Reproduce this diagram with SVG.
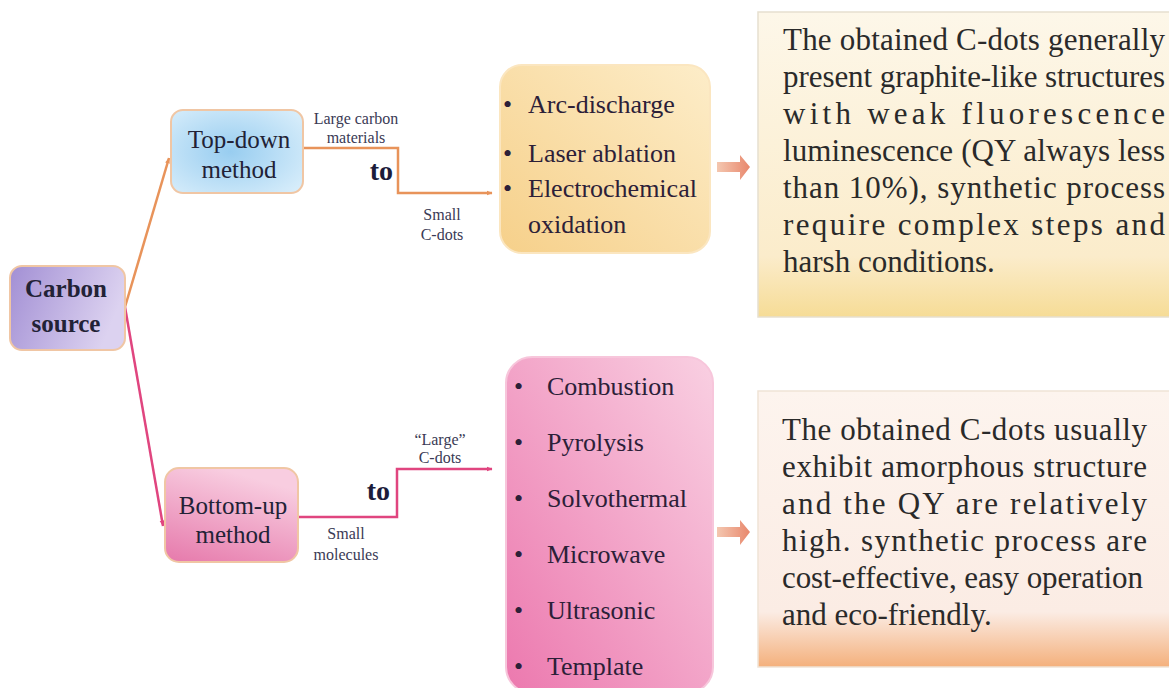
<svg xmlns="http://www.w3.org/2000/svg" width="1169" height="688" viewBox="0 0 1169 688">
<defs>
<style>
.node{stroke:#f0c6a4;stroke-width:2}
.t{font-family:"Liberation Serif","Times New Roman",serif;fill:#222236}
.nt{font-size:25px;text-anchor:middle}
.lbl{font-size:16px;text-anchor:middle;fill:#3a3a55}
.to{font-size:28px;font-weight:bold;text-anchor:end;fill:#1c1c3a}
.li{font-size:26px;fill:#2c2038}
.desc{font-size:31px;fill:#2a2a2a}
.orange{stroke:#e8935a;stroke-width:2.5;fill:none}
.pink{stroke:#e0457f;stroke-width:2.5;fill:none}
</style>
<linearGradient id="gCarbon" x1="0" y1="0" x2="1" y2="0.3"><stop offset="0" stop-color="#a28fd4"/><stop offset="1" stop-color="#dcd2f0"/></linearGradient>
<radialGradient id="gTop" cx="0.45" cy="0.5" r="0.7"><stop offset="0" stop-color="#98cdf0"/><stop offset="1" stop-color="#d9eefb"/></radialGradient>
<linearGradient id="gBottom" x1="0" y1="1" x2="0.4" y2="0"><stop offset="0" stop-color="#e679ab"/><stop offset="1" stop-color="#f8cde0"/></linearGradient>
<linearGradient id="gArc" x1="0" y1="1" x2="1" y2="0"><stop offset="0" stop-color="#f6d08a"/><stop offset="1" stop-color="#fdedc9"/></linearGradient>
<linearGradient id="gPink" x1="0" y1="1" x2="1" y2="0"><stop offset="0" stop-color="#ec78ae"/><stop offset="1" stop-color="#f9d0e2"/></linearGradient>
<linearGradient id="gDesc1" x1="0" y1="0" x2="0" y2="1"><stop offset="0" stop-color="#fdf7e9"/><stop offset="0.8" stop-color="#fbeccb"/><stop offset="1" stop-color="#f6dc96"/></linearGradient>
<linearGradient id="gDesc2" x1="0" y1="0" x2="0" y2="1"><stop offset="0" stop-color="#fdf4ee"/><stop offset="0.8" stop-color="#fbece4"/><stop offset="1" stop-color="#f4b07c"/></linearGradient>
<linearGradient id="gBlock" x1="0" y1="0" x2="1" y2="0"><stop offset="0" stop-color="#f4c7b0"/><stop offset="1" stop-color="#e8876c"/></linearGradient>
<marker id="aO" viewBox="0 0 10 10" refX="9" refY="5" markerWidth="6" markerHeight="6" orient="auto" markerUnits="userSpaceOnUse"><path d="M0,1 L10,5 L0,9 Z" fill="#e8935a"/></marker>
<marker id="aP" viewBox="0 0 10 10" refX="9" refY="5" markerWidth="6" markerHeight="6" orient="auto" markerUnits="userSpaceOnUse"><path d="M0,1 L10,5 L0,9 Z" fill="#e0457f"/></marker>
</defs>
<rect width="1169" height="688" fill="#ffffff"/>

<g id="connectors">
<path class="orange" d="M125,307 L169,158" marker-end="url(#aO)"/>
<path class="pink" d="M125,307 L163,526" marker-end="url(#aP)"/>
<path class="orange" d="M303,148 H398 V193 H492" marker-end="url(#aO)"/>
<path class="pink" d="M298,517 H397 V469 H492" marker-end="url(#aP)"/>
<path d="M717,162 H740 V155 L750,167 L740,180 V172 H717 Z" fill="url(#gBlock)"/>
<path d="M717,527 H740 V520 L750,532 L740,545 V537 H717 Z" fill="url(#gBlock)"/>
<text class="t lbl" x="356" y="124">Large carbon</text>
<text class="t lbl" x="356" y="143">materials</text>
<text class="t to" x="393" y="180">to</text>
<text class="t lbl" x="442" y="220">Small</text>
<text class="t lbl" x="442" y="240">C-dots</text>
<text class="t lbl" x="440" y="445">“Large”</text>
<text class="t lbl" x="440" y="463">C-dots</text>
<text class="t to" x="390" y="500">to</text>
<text class="t lbl" x="346" y="539">Small</text>
<text class="t lbl" x="346" y="560">molecules</text>
</g>

<g id="carbon-source">
<rect class="node" x="10" y="266" width="115" height="84" rx="12" fill="url(#gCarbon)"/>
<text class="t" x="66" y="297" font-size="25" font-weight="bold" text-anchor="middle" fill="#1e1530">Carbon</text>
<text class="t" x="66" y="332" font-size="25" font-weight="bold" text-anchor="middle" fill="#1e1530">source</text>
</g>

<g id="top-down">
<rect class="node" x="171" y="110" width="132" height="83" rx="12" fill="url(#gTop)"/>
<text class="t nt" x="239" y="148">Top-down</text>
<text class="t nt" x="239" y="178">method</text>
</g>

<g id="bottom-up">
<rect class="node" x="165" y="468" width="133" height="94" rx="14" fill="url(#gBottom)"/>
<text class="t nt" x="233" y="514">Bottom-up</text>
<text class="t nt" x="233" y="543">method</text>
</g>

<g id="top-down-methods">
<rect x="500" y="65" width="210" height="188" rx="22" fill="url(#gArc)" stroke="#fbe6c0" stroke-width="2"/>
<text class="t li" x="503" y="113">•</text><text class="t li" x="528" y="113">Arc-discharge</text>
<text class="t li" x="503" y="162">•</text><text class="t li" x="528" y="162">Laser ablation</text>
<text class="t li" x="503" y="197">•</text><text class="t li" x="528" y="197">Electrochemical</text>
<text class="t li" x="528" y="233">oxidation</text>
</g>

<g id="bottom-up-methods">
<rect x="506" y="357" width="207" height="336" rx="26" fill="url(#gPink)" stroke="#f7c6db" stroke-width="2"/>
<text class="t li" x="514" y="395">•</text><text class="t li" x="547" y="395">Combustion</text>
<text class="t li" x="514" y="451">•</text><text class="t li" x="547" y="451">Pyrolysis</text>
<text class="t li" x="514" y="507">•</text><text class="t li" x="547" y="507">Solvothermal</text>
<text class="t li" x="514" y="563">•</text><text class="t li" x="547" y="563">Microwave</text>
<text class="t li" x="514" y="619">•</text><text class="t li" x="547" y="619">Ultrasonic</text>
<text class="t li" x="514" y="675">•</text><text class="t li" x="547" y="675">Template</text>
</g>

<g id="top-down-result">
<rect x="758" y="12" width="420" height="305" fill="url(#gDesc1)" stroke="#e6dfcf" stroke-width="1.5"/>
<text class="t desc" x="783" y="50" textLength="382" lengthAdjust="spacing">The obtained C-dots generally</text>
<text class="t desc" x="783" y="87" textLength="382" lengthAdjust="spacing">present graphite-like structures</text>
<text class="t desc" x="783" y="124" textLength="382" lengthAdjust="spacing">with weak fluorescence</text>
<text class="t desc" x="783" y="161" textLength="382" lengthAdjust="spacing">luminescence (QY always less</text>
<text class="t desc" x="783" y="198" textLength="382" lengthAdjust="spacing">than 10%), synthetic process</text>
<text class="t desc" x="783" y="235" textLength="382" lengthAdjust="spacing">require complex steps and</text>
<text class="t desc" x="783" y="272">harsh conditions.</text>
</g>

<g id="bottom-up-result">
<rect x="758" y="391" width="420" height="276" fill="url(#gDesc2)" stroke="#efe3d6" stroke-width="1.5"/>
<text class="t desc" x="782" y="440" textLength="365" lengthAdjust="spacing">The obtained C-dots usually</text>
<text class="t desc" x="782" y="477" textLength="365" lengthAdjust="spacing">exhibit amorphous structure</text>
<text class="t desc" x="782" y="514" textLength="365" lengthAdjust="spacing">and the QY are relatively</text>
<text class="t desc" x="782" y="551" textLength="365" lengthAdjust="spacing">high. synthetic process are</text>
<text class="t desc" x="782" y="588" textLength="361" lengthAdjust="spacing">cost-effective, easy operation</text>
<text class="t desc" x="782" y="625">and  eco-friendly.</text>
</g>
</svg>
